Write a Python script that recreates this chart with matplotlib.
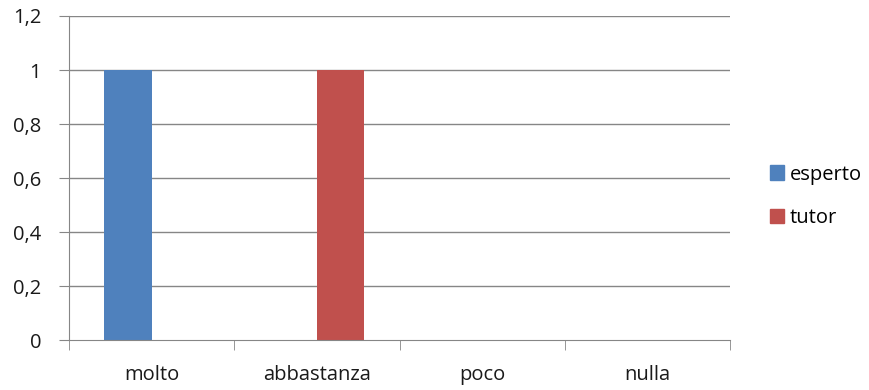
import numpy as np
import matplotlib
matplotlib.use('Agg')
from matplotlib import pyplot as plt
from matplotlib.patches import Patch

categories = ['molto', 'abbastanza', 'poco', 'nulla']
esperto = [1, 0, 0, 0]
tutor = [0, 1, 0, 0]
yticks = [0, 0.2, 0.4, 0.6, 0.8, 1, 1.2]
ytick_labels = ['0', '0,2', '0,4', '0,6', '0,8', '1', '1,2']

plt.rcParams['font.family'] = ['Open Sans', 'DejaVu Sans']
grid_col = '#868686'
blue = '#4F81BD'
red = '#C0504D'
txt_col = '#1a1a1a'

fig = plt.figure(figsize=(8.7, 3.9), dpi=100)
ax = fig.add_axes([0.0793, 0.128, 0.76, 0.831])

# excel clustered bars: gap width 150%
w = 1 / 3.5
x = np.arange(len(categories))
ax.bar(x - w / 2, esperto, w, color=blue)
ax.bar(x + w / 2, tutor, w, color=red)

ax.set_xlim(-0.5, len(categories) - 0.5)
ax.set_ylim(0, 1.2)
ax.set_yticks(yticks)
ax.set_yticklabels(ytick_labels, fontsize=14.5, color=txt_col)
ax.set_xticks(x)
ax.set_xticklabels(categories, fontsize=14.5, color=txt_col)
ax.set_xticks(np.arange(len(categories) + 1) - 0.5, minor=True)
ax.tick_params(axis='x', which='major', length=0, pad=18)
ax.tick_params(axis='x', which='minor', length=7, color=grid_col)
ax.tick_params(axis='y', length=7, color=grid_col, pad=13)
for y in yticks[1:]:
    ax.axhline(y, color=grid_col, lw=1, zorder=0)
for s in ['top', 'right']:
    ax.spines[s].set_visible(False)
for s in ['left', 'bottom']:
    ax.spines[s].set_color(grid_col)
ax.set_axisbelow(True)

handles = [Patch(color=blue, label='esperto'), Patch(color=red, label='tutor')]
fig.legend(handles=handles, loc='center left', bbox_to_anchor=(0.885, 0.497),
           frameon=False, fontsize=14.5, handlelength=0.7, handleheight=0.7,
           handletextpad=0.3, labelspacing=1.15, borderpad=0, borderaxespad=0)

fig.savefig('out.png', dpi=100)
